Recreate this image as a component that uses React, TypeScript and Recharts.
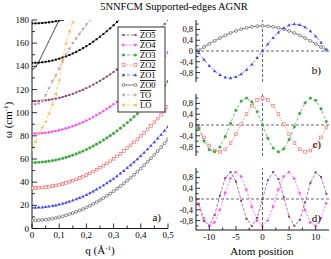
import React from 'react';
import { LineChart, Line, XAxis, YAxis, ReferenceLine } from 'recharts';

const FONT = '"Liberation Serif", "Times New Roman", serif';

// ---- panel a): dispersion, omega (cm^-1) vs q (1/A)
const qGrid = [
  0, 0.0125, 0.025, 0.0375, 0.05, 0.0625, 0.075, 0.0875, 0.1, 0.1125, 0.125, 0.1375, 0.15, 0.1625,
  0.175, 0.1875, 0.2, 0.2125, 0.225, 0.2375, 0.25, 0.2625, 0.275, 0.2875, 0.3, 0.3125, 0.325,
  0.3375, 0.35, 0.3625, 0.375, 0.3875, 0.4, 0.4125, 0.425, 0.4375, 0.45, 0.4625, 0.475, 0.4875, 0.5,
];
const zo0Disp = [
  7.0, 7.0, 7.2, 7.4, 7.7, 8.1, 8.6, 9.1, 9.8, 10.5, 11.4, 12.3, 13.3, 14.4, 15.6, 16.8, 18.2, 19.6,
  21.2, 22.8, 24.5, 26.3, 28.2, 30.1, 32.2, 34.3, 36.6, 38.9, 41.3, 43.8, 46.4, 49.0, 51.8, 54.6,
  57.6, 60.6, 63.7, 66.9, 70.2, 73.5, 77.0,
];
const zo1Disp = [
  18.0, 18.0, 18.2, 18.4, 18.7, 19.1, 19.6, 20.1, 20.8, 21.5, 22.4, 23.3, 24.3, 25.4, 26.6, 27.8,
  29.2, 30.6, 32.2, 33.8, 35.5, 37.3, 39.2, 41.1, 43.2, 45.3, 47.6, 49.9, 52.3, 54.8, 57.4, 60.0,
  62.8, 65.6, 68.6, 71.6, 74.7, 77.9, 81.2, 84.5, 88.0,
];
const zo2Disp = [
  35.0, 35.0, 35.2, 35.4, 35.7, 36.1, 36.6, 37.1, 37.8, 38.5, 39.4, 40.3, 41.3, 42.4, 43.6, 44.8,
  46.2, 47.6, 49.2, 50.8, 52.5, 54.3, 56.2, 58.1, 60.2, 62.3, 64.6, 66.9, 69.3, 71.8, 74.4, 77.0,
  79.8, 82.6, 85.6, 88.6, 91.7, 94.9, 98.2, 101.5, 105.0,
];
const zo3Disp = [
  57.0, 57.0, 57.2, 57.4, 57.7, 58.1, 58.6, 59.1, 59.8, 60.5, 61.4, 62.3, 63.3, 64.4, 65.6, 66.8,
  68.2, 69.6, 71.2, 72.8, 74.5, 76.3, 78.2, 80.1, 82.2, 84.3, 86.6, 88.9, 91.3, 93.8, 96.4, 99.0,
  101.8, 104.6, 107.6, 110.6, 113.7, 116.9, 120.2, 123.5, 127.0,
];
const zo4Disp = [
  82.0, 82.0, 82.2, 82.4, 82.7, 83.1, 83.6, 84.1, 84.8, 85.5, 86.4, 87.3, 88.3, 89.4, 90.6, 91.8,
  93.2, 94.6, 96.2, 97.8, 99.5, 101.3, 103.2, 105.1, 107.2, 109.3, 111.6, 113.9, 116.3, 118.8,
  121.4, 124.0, 126.8, 129.6, 132.6, 135.6, 138.7, 141.9, 145.2, 148.5, 152.0,
];
const zo5Disp = [
  110.0, 110.0, 110.2, 110.4, 110.7, 111.1, 111.6, 112.1, 112.8, 113.5, 114.4, 115.3, 116.3, 117.4,
  118.6, 119.8, 121.2, 122.6, 124.2, 125.8, 127.5, 129.3, 131.2, 133.1, 135.2, 137.3, 139.6, 141.9,
  144.3, 146.8, 149.4, 152.0, 154.8, 157.6, 160.6, 163.6, 166.7, 169.9, 173.2, 176.5, 180.0,
];
const toDisp = [107, 107.2, 108, 110, 115, 121, 127, 132, 138, 144, 150, 155, 160, 164, 168, 172, 176, 180];
const loDisp = [68, 75, 82, 87, 92, 99, 107, 116, 128, 146, 160, 170, 178];
// upper in-plane branches (black, not in legend)
const upperA = [
  143.0, 143.1, 143.2, 143.5, 143.9, 144.4, 145.0, 145.8, 146.6, 147.6, 148.6, 149.8, 151.1, 152.5,
  154.1, 155.7, 157.4, 159.3, 161.3, 163.4, 165.6, 167.9, 170.3, 172.8, 175.5, 178.3, 181.1,
];
const upperB = [177.0, 177.1, 177.2, 177.4, 177.7, 178.0, 178.4, 178.9, 179.5, 180.1];
const upperC = [137, 139, 144, 150, 156, 162, 168, 174, 180];

const leftXTicks = [0, 0.05, 0.1, 0.15, 0.2, 0.25, 0.3, 0.35, 0.4, 0.45, 0.5];
const leftYTicks = [0, 10, 20, 30, 40, 50, 60, 70, 80, 90, 100, 110, 120, 130, 140, 150, 160, 170, 180];

// ---- panels b) c) d): mode profiles vs atom position
const atomPos = [-12, -11, -10, -9, -8, -7, -6, -5, -4, -3, -2, -1, 0, 1, 2, 3, 4, 5, 6, 7, 8, 9, 10, 11, 12];
const zo0Prof = [
  0.03, 0.148, 0.265, 0.376, 0.482, 0.58, 0.668, 0.745, 0.81, 0.862, 0.9, 0.922, 0.93, 0.922, 0.9,
  0.862, 0.81, 0.745, 0.668, 0.58, 0.482, 0.376, 0.265, 0.148, 0.03,
];
const zo1Prof = [
  -0.064, -0.315, -0.545, -0.741, -0.887, -0.975, -1.0, -0.959, -0.855, -0.696, -0.491, -0.254, 0,
  0.254, 0.491, 0.696, 0.855, 0.959, 1.0, 0.975, 0.887, 0.741, 0.545, 0.315, 0.064,
];
const zo2Prof = [
  -0.096, -0.462, -0.761, -0.949, -0.998, -0.901, -0.672, -0.345, 0.032, 0.405, 0.718, 0.927, 1,
  0.927, 0.718, 0.405, 0.032, -0.345, -0.672, -0.901, -0.998, -0.949, -0.761, -0.462, -0.096,
];
const zo3Prof = [
  -0.128, -0.598, -0.915, -0.995, -0.821, -0.434, 0.064, 0.545, 0.887, 1.0, 0.855, 0.491, 0,
  -0.491, -0.855, -1.0, -0.887, -0.545, -0.064, 0.434, 0.821, 0.995, 0.915, 0.598, 0.128,
];
const zo4Prof = [
  -0.16, -0.718, -0.992, -0.871, -0.405, 0.223, 0.761, 0.998, 0.838, 0.345, -0.285, -0.801, -1,
  -0.801, -0.285, 0.345, 0.838, 0.998, 0.761, 0.223, -0.405, -0.871, -0.992, -0.718, -0.16,
];
const zo5Prof = [
  -0.191, -0.82, -0.987, -0.598, 0.128, 0.782, 0.995, 0.648, -0.064, -0.741, -1.0, -0.696, 0, 0.696,
  1.0, 0.741, 0.064, -0.648, -0.995, -0.782, -0.128, 0.598, 0.987, 0.82, 0.191,
];

const rightXTicks = [-10, -7.5, -5, -2.5, 0, 2.5, 5, 7.5, 10];
const rightYTicks = [-1, -0.8, -0.6, -0.4, -0.2, 0, 0.2, 0.4, 0.6, 0.8, 1];

const legendNames = ['ZO5', 'ZO4', 'ZO3', 'ZO2', 'ZO1', 'ZO0', 'TO', 'LO'];

type Sty = { color: string; shape: string; dash?: string; size: number };
const STY: Record<string, Sty> = {
  ZO0: { color: '#444444', shape: 'circle', size: 1.45 },
  ZO1: { color: '#4040ff', shape: 'up', dash: '3 2', size: 1.5 },
  ZO2: { color: '#ff5a5a', shape: 'square', dash: '1.2 1.2', size: 1.35 },
  ZO3: { color: '#3aa83a', shape: 'dot', dash: '3 2', size: 1.35 },
  ZO4: { color: '#ff44ff', shape: 'right', dash: '2 1.5', size: 1.5 },
  ZO5: { color: '#8a3e74', shape: 'small', dash: '3 1.5', size: 1.0 },
  TO: { color: '#c49a9a', shape: 'down', dash: '3 2', size: 1.5 },
  LO: { color: '#ffb838', shape: 'left', dash: '3 2', size: 1.5 },
  UP: { color: '#000000', shape: 'small', size: 1.0 },
};

const zip = (xs: number[], ys: number[]) => ys.map((y, i) => ({ x: xs[i], y }));

function Marker({ cx, cy, s }: { cx: number; cy: number; s: Sty }) {
  if (cx == null || cy == null || isNaN(cx) || isNaN(cy)) return null;
  const r = s.size;
  const c = s.color;
  switch (s.shape) {
    case 'circle':
      return <circle cx={cx} cy={cy} r={r} fill="#fff" stroke={c} strokeWidth={0.6} />;
    case 'square':
      return <rect x={cx - r} y={cy - r} width={2 * r} height={2 * r} fill="#fff" stroke={c} strokeWidth={0.6} />;
    case 'dot':
      return <circle cx={cx} cy={cy} r={r} fill={c} stroke={c} strokeWidth={0.3} />;
    case 'small':
      return <rect x={cx - r} y={cy - r} width={2 * r} height={2 * r} fill={c} />;
    case 'up':
      return <polygon points={`${cx},${cy - r * 1.2} ${cx - r * 1.1},${cy + r * 0.8} ${cx + r * 1.1},${cy + r * 0.8}`} fill={c} />;
    case 'down':
      return <polygon points={`${cx},${cy + r * 1.2} ${cx - r * 1.1},${cy - r * 0.8} ${cx + r * 1.1},${cy - r * 0.8}`} fill={c} />;
    case 'right':
      return <polygon points={`${cx + r * 1.2},${cy} ${cx - r * 0.8},${cy - r * 1.1} ${cx - r * 0.8},${cy + r * 1.1}`} fill={c} />;
    case 'left':
      return <polygon points={`${cx - r * 1.2},${cy} ${cx + r * 0.8},${cy - r * 1.1} ${cx + r * 0.8},${cy + r * 1.1}`} fill={c} />;
    default:
      return null;
  }
}

type Side = 'left' | 'right' | 'top' | 'bottom';
const comma = (v: number) => String(Math.round(v * 10) / 10).replace('.', ',');

function makeTick(side: Side, isMajor: (v: number) => boolean, fmt: ((v: number) => string) | null, majLen: number, minLen: number, fs: number) {
  return (p: any) => {
    const { x, y, payload } = p;
    const v = payload.value;
    const maj = isMajor(v);
    const len = maj ? majLen : minLen;
    let x2 = x;
    let y2 = y;
    if (side === 'left') x2 = x + len;
    if (side === 'right') x2 = x - len;
    if (side === 'bottom') y2 = y - len;
    if (side === 'top') y2 = y + len;
    return (
      <g key={`${side}-${v}`}>
        <line x1={x} y1={y} x2={x2} y2={y2} stroke="#000" strokeWidth={0.8} />
        {maj && fmt && side === 'left' && (
          <text x={x - 3} y={y} dy="0.35em" textAnchor="end" fontSize={fs} fontFamily={FONT} fill="#000">
            {fmt(v)}
          </text>
        )}
        {maj && fmt && side === 'bottom' && (
          <text x={x} y={y + 3} dy="0.75em" textAnchor="middle" fontSize={fs} fontFamily={FONT} fill="#000">
            {fmt(v)}
          </text>
        )}
      </g>
    );
  };
}

const isTenth = (v: number) => Math.abs(v * 10 - Math.round(v * 10)) < 1e-6;
const isTwenty = (v: number) => v % 20 === 0;
const isFive = (v: number) => v % 5 === 0;
const isPoint4 = (v: number) => Math.abs(v / 0.4 - Math.round(v / 0.4)) < 1e-6;

const axisLine = { stroke: '#000', strokeWidth: 0.9 };

function seriesLine(key: string, id: string, pts: { x: number; y: number }[], s: Sty, withDots = true, xId = 'b', yId = 'l') {
  return (
    <Line
      key={id}
      xAxisId={xId}
      yAxisId={yId}
      data={pts}
      dataKey="y"
      type="linear"
      stroke={s.color}
      strokeWidth={0.7}
      strokeDasharray={s.dash}
      isAnimationActive={false}
      activeDot={false}
      dot={withDots ? (p: any) => <Marker key={`${id}-${p.index}`} cx={p.cx} cy={p.cy} s={s} /> : false}
      name={key}
    />
  );
}

function DispersionPanel() {
  return (
    <div style={{ position: 'absolute', left: 0, top: 0 }}>
      <LineChart width={180} height={259} margin={{ top: 20, right: 12, bottom: 0, left: 0 }}>
        <XAxis xAxisId="b" type="number" dataKey="x" domain={[0, 0.5]} ticks={leftXTicks} interval={0}
          allowDataOverflow height={30.5} tickSize={0} tickMargin={0} axisLine={axisLine} tickLine={false}
          tick={makeTick('bottom', isTenth, comma, 5, 3, 9)} />
        <XAxis xAxisId="t" orientation="top" type="number" dataKey="x" domain={[0, 0.5]} ticks={leftXTicks} interval={0}
          allowDataOverflow height={0} tickSize={0} tickMargin={0} axisLine={axisLine} tickLine={false}
          tick={makeTick('top', isTenth, null, 5, 3, 9)} />
        <YAxis yAxisId="l" type="number" domain={[0, 180]} ticks={leftYTicks} interval={0}
          allowDataOverflow width={32} tickSize={0} tickMargin={0} axisLine={axisLine} tickLine={false}
          tick={makeTick('left', isTwenty, (v) => String(v), 5, 3, 9)} />
        <YAxis yAxisId="r" orientation="right" type="number" domain={[0, 180]} ticks={leftYTicks} interval={0}
          allowDataOverflow width={0} tickSize={0} tickMargin={0} axisLine={axisLine} tickLine={false}
          tick={makeTick('right', isTwenty, null, 5, 3, 9)} />
        {seriesLine('A', 'upA', zip(qGrid, upperA), STY.UP)}
        {seriesLine('B', 'upB', zip(qGrid, upperB), STY.UP)}
        {seriesLine('C', 'upC', zip(qGrid, upperC), STY.UP, false)}
        {seriesLine('ZO5', 'zo5', zip(qGrid, zo5Disp), STY.ZO5)}
        {seriesLine('ZO4', 'zo4', zip(qGrid, zo4Disp), STY.ZO4)}
        {seriesLine('ZO3', 'zo3', zip(qGrid, zo3Disp), STY.ZO3)}
        {seriesLine('ZO2', 'zo2', zip(qGrid, zo2Disp), STY.ZO2)}
        {seriesLine('ZO1', 'zo1', zip(qGrid, zo1Disp), STY.ZO1)}
        {seriesLine('ZO0', 'zo0', zip(qGrid, zo0Disp), STY.ZO0)}
        {seriesLine('TO', 'to', zip(qGrid, toDisp), STY.TO)}
        {seriesLine('LO', 'lo', zip(qGrid, loDisp), STY.LO)}
      </LineChart>
    </div>
  );
}

function ProfilePanel({ plotTop, showX, series }: { plotTop: number; showX: boolean; series: { key: string; ys: number[] }[] }) {
  const plotH = 62;
  const bottomH = showX ? 29 : 0;
  const mb = showX ? 0 : 5;
  const h = 5 + plotH + bottomH + mb;
  return (
    <div style={{ position: 'absolute', left: 166, top: plotTop - 5 }}>
      <LineChart width={165} height={h} margin={{ top: 5, right: 2, bottom: mb, left: 0 }}>
        <XAxis xAxisId="b" type="number" dataKey="x" domain={[-12.5, 12.5]} ticks={rightXTicks} interval={0}
          allowDataOverflow height={bottomH} tickSize={0} tickMargin={0} axisLine={axisLine} tickLine={false}
          tick={makeTick('bottom', isFive, showX ? (v) => String(v) : null, 4, 2.5, 9)} />
        <XAxis xAxisId="t" orientation="top" type="number" dataKey="x" domain={[-12.5, 12.5]} ticks={rightXTicks} interval={0}
          allowDataOverflow height={0} tickSize={0} tickMargin={0} axisLine={axisLine} tickLine={false}
          tick={makeTick('top', isFive, null, 4, 2.5, 9)} />
        <YAxis yAxisId="l" type="number" domain={[-1.15, 1.15]} ticks={rightYTicks} interval={0}
          allowDataOverflow width={30} tickSize={0} tickMargin={0} axisLine={axisLine} tickLine={false}
          tick={makeTick('left', isPoint4, comma, 4, 2.5, 8.5)} />
        <YAxis yAxisId="r" orientation="right" type="number" domain={[-1.15, 1.15]} ticks={rightYTicks} interval={0}
          allowDataOverflow width={0} tickSize={0} tickMargin={0} axisLine={axisLine} tickLine={false}
          tick={makeTick('right', isPoint4, null, 4, 2.5, 8.5)} />
        <ReferenceLine xAxisId="b" yAxisId="l" y={0} stroke="#000" strokeWidth={0.6} strokeDasharray="3 2" />
        <ReferenceLine xAxisId="b" yAxisId="l" x={0} stroke="#000" strokeWidth={0.6} strokeDasharray="3 2" />
        {series.map((sr) => seriesLine(sr.key, `p-${sr.key}`, zip(atomPos, sr.ys), STY[sr.key]))}
      </LineChart>
    </div>
  );
}

function Sup({ base, sup, x, y, anchor = 'middle', transform }: { base: string; sup: string; x: number; y: number; anchor?: string; transform?: string }) {
  return (
    <text x={x} y={y} textAnchor={anchor as any} fontSize={11} fontFamily={FONT} fill="#000" transform={transform}>
      {base}
      <tspan dy={-4} fontSize={7}>{sup}</tspan>
      <tspan dy={4}>)</tspan>
    </text>
  );
}

function Overlay() {
  const lx1 = 122;
  const lx2 = 137;
  return (
    <svg width={331} height={259} style={{ position: 'absolute', left: 0, top: 0, pointerEvents: 'none' }}>
      <text x={174} y={9.5} textAnchor="middle" fontSize={10.5} fontFamily={FONT} fill="#000">
        5NNFCM Supported-edges AGNR
      </text>
      <Sup base="ω (cm" sup="-1" x={0} y={0} transform="translate(11.5,120) rotate(-90)" />
      <Sup base="q (Å" sup="-1" x={100} y={254} />
      <text x={262} y={255} textAnchor="middle" fontSize={11} fontFamily={FONT} fill="#000">Atom position</text>
      <text x={161} y={221} textAnchor="end" fontSize={11} fontFamily={FONT} fill="#000">a)</text>
      <text x={321} y={74} textAnchor="end" fontSize={11} fontFamily={FONT} fill="#000">b)</text>
      <text x={321} y={148} textAnchor="end" fontSize={11} fontFamily={FONT} fill="#000">c)</text>
      <text x={321} y={222} textAnchor="end" fontSize={11} fontFamily={FONT} fill="#000">d)</text>
      <rect x={118} y={27} width={47} height={85} fill="#fff" stroke="#000" strokeWidth={0.8} />
      {legendNames.map((n, i) => {
        const s = STY[n];
        const y = 35 + i * 10;
        return (
          <g key={n}>
            <line x1={lx1} y1={y} x2={lx2} y2={y} stroke={s.color} strokeWidth={0.7} strokeDasharray={s.dash} />
            <Marker cx={lx1 + 1.5} cy={y} s={s} />
            <Marker cx={lx2 - 1.5} cy={y} s={s} />
            <text x={140} y={y + 3} fontSize={8.5} fontFamily={FONT} fill="#000" textDecoration="overline">{n}</text>
          </g>
        );
      })}
    </svg>
  );
}

export default function App() {
  return (
    <div style={{ position: 'absolute', left: 0, top: 0, width: 331, height: 259, background: '#fff', fontFamily: FONT }}>
      <DispersionPanel />
      <ProfilePanel plotTop={20} showX={false} series={[{ key: 'ZO0', ys: zo0Prof }, { key: 'ZO1', ys: zo1Prof }]} />
      <ProfilePanel plotTop={94} showX={false} series={[{ key: 'ZO2', ys: zo2Prof }, { key: 'ZO3', ys: zo3Prof }]} />
      <ProfilePanel plotTop={168} showX={true} series={[{ key: 'ZO5', ys: zo5Prof }, { key: 'ZO4', ys: zo4Prof }]} />
      <Overlay />
    </div>
  );
}
